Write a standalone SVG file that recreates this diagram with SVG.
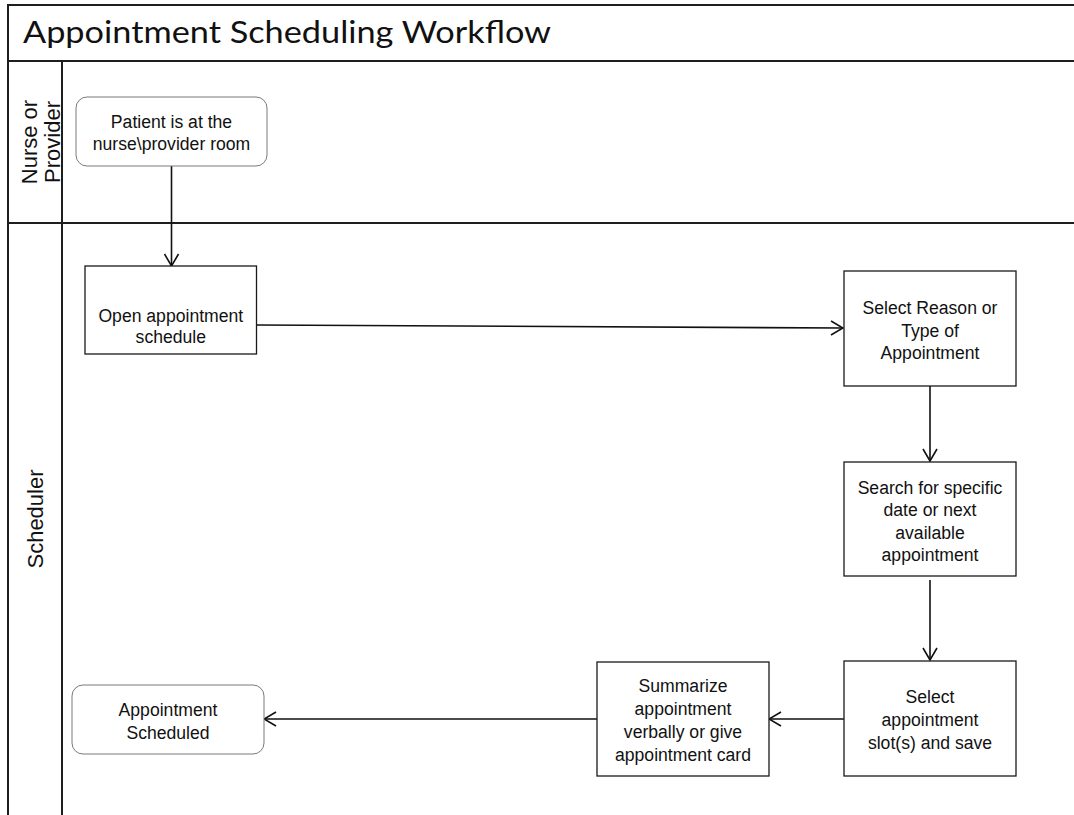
<svg xmlns="http://www.w3.org/2000/svg" width="1074" height="815" viewBox="0 0 1074 815">
  <style>
    .frame { stroke: #1e1e1e; stroke-width: 2; fill: none; }
    .box { fill: #ffffff; stroke: #1a1a1a; stroke-width: 1.3; }
    .term { fill: #ffffff; stroke: #7a7a7a; stroke-width: 1; }
    .t { font-family: "Liberation Sans", Arial, sans-serif; font-size: 17.6px; fill: #111; text-anchor: middle; }
    .lane { font-family: "Liberation Sans", Arial, sans-serif; font-size: 22px; fill: #111; text-anchor: middle; }
    .title { font-family: Lato, "Open Sans", sans-serif; font-size: 31px; fill: #111; }
    .conn { stroke: #111; stroke-width: 1.6; fill: none; marker-end: url(#arr); }
  </style>
  <defs>
    <marker id="arr" markerUnits="userSpaceOnUse" viewBox="0 0 14 16" refX="13" refY="8" markerWidth="14" markerHeight="16" orient="auto">
      <path d="M1,1 L13,8 L1,15" fill="none" stroke="#111" stroke-width="1.6"/>
    </marker>
  </defs>
  <rect x="0" y="0" width="1074" height="815" fill="#ffffff"/>

  <g id="pool">
    <line class="frame" x1="8" y1="5" x2="1074" y2="5"/>
    <line class="frame" x1="8" y1="4" x2="8" y2="815"/>
    <line class="frame" x1="8" y1="61" x2="1074" y2="61"/>
    <line class="frame" x1="62" y1="61" x2="62" y2="815"/>
    <line class="frame" x1="8" y1="223" x2="1074" y2="223"/>
    <text class="title" x="23" y="43" textLength="528" lengthAdjust="spacingAndGlyphs">Appointment Scheduling Workflow</text>
  </g>

  <g id="lane-nurse">
    <text class="lane" transform="translate(36.5,142) rotate(-90)">Nurse or</text>
    <text class="lane" transform="translate(59.5,142) rotate(-90)">Provider</text>
  </g>
  <g id="lane-scheduler">
    <text class="lane" transform="translate(43,519) rotate(-90)">Scheduler</text>
  </g>

  <g id="connectors">
    <line class="conn" x1="171.5" y1="166" x2="171.5" y2="266"/>
    <line class="conn" x1="257" y1="325" x2="843" y2="328"/>
    <line class="conn" x1="930" y1="386" x2="930" y2="461"/>
    <line class="conn" x1="930" y1="580" x2="930" y2="660"/>
    <line class="conn" x1="844" y1="719" x2="769" y2="719"/>
    <line class="conn" x1="597" y1="719" x2="264" y2="719"/>
  </g>

  <g id="n-patient">
    <rect class="term" x="76" y="97" width="191" height="69" rx="11"/>
    <text class="t" x="171.5" y="127.5">Patient is at the</text>
    <text class="t" x="171.5" y="149.5">nurse\provider room</text>
  </g>

  <g id="n-open">
    <rect class="box" x="85" y="266" width="171.5" height="88"/>
    <text class="t" x="170.8" y="322">Open appointment</text>
    <text class="t" x="170.8" y="343">schedule</text>
  </g>

  <g id="n-reason">
    <rect class="box" x="844" y="271" width="172" height="115"/>
    <text class="t" x="930" y="313.5">Select Reason or</text>
    <text class="t" x="930" y="336.5">Type of</text>
    <text class="t" x="930" y="359">Appointment</text>
  </g>

  <g id="n-search">
    <rect class="box" x="844" y="462" width="172" height="114"/>
    <text class="t" x="930" y="493.5">Search for specific</text>
    <text class="t" x="930" y="516">date or next</text>
    <text class="t" x="930" y="539">available</text>
    <text class="t" x="930" y="561">appointment</text>
  </g>

  <g id="n-slot">
    <rect class="box" x="844" y="661" width="172" height="115"/>
    <text class="t" x="930" y="702.5">Select</text>
    <text class="t" x="930" y="725.5">appointment</text>
    <text class="t" x="930" y="748.5">slot(s) and save</text>
  </g>

  <g id="n-summarize">
    <rect class="box" x="597" y="662" width="172" height="114"/>
    <text class="t" x="683" y="691.5">Summarize</text>
    <text class="t" x="683" y="714.5">appointment</text>
    <text class="t" x="683" y="738">verbally or give</text>
    <text class="t" x="683" y="761">appointment card</text>
  </g>

  <g id="n-scheduled">
    <rect class="term" x="72" y="685" width="192" height="69" rx="11"/>
    <text class="t" x="168" y="716">Appointment</text>
    <text class="t" x="168" y="738.5">Scheduled</text>
  </g>
</svg>
